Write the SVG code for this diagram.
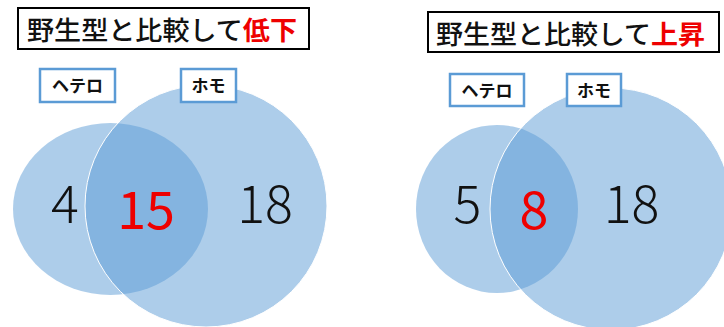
<svg xmlns="http://www.w3.org/2000/svg" width="724" height="327" viewBox="0 0 724 327">
<style>
.set{fill:#5b9bd5;fill-opacity:0.5}
.big{stroke:#ffffff;stroke-width:1}
.title-box{fill:#ffffff;stroke:#000000;stroke-width:2}
.title{font-family:"Noto Sans CJK JP","Noto Sans CJK SC",sans-serif;font-size:26px;font-weight:500;fill:#111111}
.hl{fill:#ee0000;font-weight:bold}
.lab-box{fill:#ffffff;stroke:#5b9bd5;stroke-width:2.5}
.lab{font-family:"Noto Sans CJK JP",sans-serif;font-size:17px;font-weight:bold;fill:#111111;text-anchor:middle}
.num{font-family:"Noto Sans CJK JP","Noto Sans",sans-serif;font-size:52px;font-weight:300;fill:#111111;text-anchor:middle}
.red{fill:#ee0000;font-weight:normal}
</style>
<rect width="724" height="327" fill="#ffffff"/>
<g id="left">
  <g id="left-title">
    <rect class="title-box" x="18" y="8" width="291" height="41"/>
    <text class="title" x="27" y="40" textLength="270" lengthAdjust="spacingAndGlyphs">野生型と比較して<tspan class="hl">低下</tspan></text>
  </g>
  <g id="left-hetero-set"><ellipse class="set" cx="110.5" cy="209" rx="97.5" ry="86"/></g>
  <g id="left-homo-set"><circle class="set big" cx="206" cy="206" r="121"/></g>
  <g id="left-hetero-label">
    <rect class="lab-box" x="40" y="69" width="75" height="33"/>
    <text class="lab" x="77.5" y="92">ヘテロ</text>
  </g>
  <g id="left-homo-label">
    <rect class="lab-box" x="181" y="69" width="55" height="33"/>
    <text class="lab" x="208.5" y="92">ホモ</text>
  </g>
  <g id="left-numbers">
    <text class="num" x="65" y="223">4</text>
    <text class="num red" x="146" y="229">15</text>
    <text class="num" x="265" y="223">18</text>
  </g>
</g>
<g id="right">
  <g id="right-title">
    <rect class="title-box" x="428" y="12" width="291" height="40"/>
    <text class="title" x="436" y="44" textLength="269" lengthAdjust="spacingAndGlyphs">野生型と比較して<tspan class="hl">上昇</tspan></text>
  </g>
  <g id="right-hetero-set"><ellipse class="set" cx="497" cy="209" rx="81" ry="84"/></g>
  <g id="right-homo-set"><circle class="set big" cx="611" cy="209" r="121"/></g>
  <g id="right-hetero-label">
    <rect class="lab-box" x="450" y="74" width="74" height="32"/>
    <text class="lab" x="487" y="97">ヘテロ</text>
  </g>
  <g id="right-homo-label">
    <rect class="lab-box" x="567" y="74" width="54" height="32"/>
    <text class="lab" x="594" y="97">ホモ</text>
  </g>
  <g id="right-numbers">
    <text class="num" x="467.5" y="223">5</text>
    <text class="num red" x="534" y="229">8</text>
    <text class="num" x="631.5" y="223">18</text>
  </g>
</g>
<g id="connectors"/>
</svg>
